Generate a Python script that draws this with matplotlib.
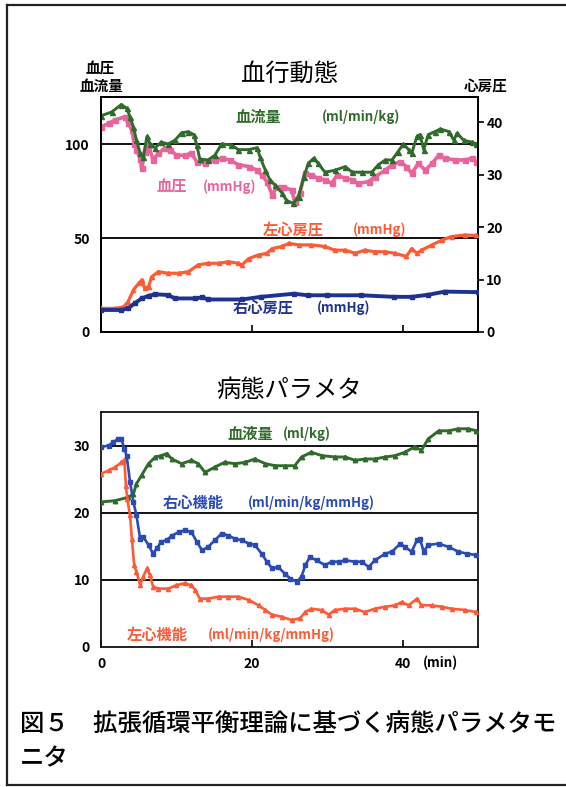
import matplotlib
matplotlib.use("Agg")
import matplotlib.pyplot as plt
from matplotlib.lines import Line2D

plt.rcParams['font.family'] = ['Noto Sans CJK JP', 'DejaVu Sans']

# ---------------- data: 血行動態 (top) ----------------
bf_t = [0, 1.4, 2.7, 3.4, 3.85, 4.3, 4.7, 5.2, 5.6, 6.1, 6.5, 7.2, 8, 8.9, 9.8, 10.7, 11.6, 12.3, 12.7, 13.1,
        14.2, 15.1, 16, 17.3, 18.2, 19.6, 20.7, 21.1, 21.8, 22.4, 23.1, 24, 24.6, 25.5, 26.2, 26.9, 27.5, 28.2, 28.8, 29.7,
        31, 32.4, 33.3, 34.6, 35.9, 36.8, 37.7, 38.6, 39.4, 40.1, 40.8, 41.2, 41.9, 42.3, 42.8, 43.4, 44.3, 45, 46.1, 46.8,
        47.2, 48.1, 49.2, 49.8]
bf_v = [115, 117, 121, 119, 114.5, 109, 102, 95, 93, 104, 100, 98, 101, 100, 102, 106, 106.5, 105, 99.5, 92,
        91.5, 94, 100, 99.5, 97, 97, 98, 93, 86, 81, 78, 74, 70, 68.4, 72, 82.6, 89.7, 92.4, 89.7, 85,
        86, 88, 85, 85, 85, 89, 91.5, 91.5, 96, 100, 97, 95, 104, 105, 97, 105, 106.6, 108, 106.6, 102,
        105.7, 102, 101, 100]

bp_t = [0, 1, 1.9, 3.2, 3.6, 4.1, 4.4, 4.7, 5.2, 5.4, 5.8, 6.3, 6.9, 7.6, 8.5, 9.2, 10, 11.1, 12, 12.7,
        13.8, 15.1, 16, 17.1, 18.2, 19.6, 20.7, 21.3, 22, 22.7, 23.3, 24.2, 25.3, 25.7, 26.4, 27, 27.9, 28.8, 29.7, 30.6,
        31.3, 32.4, 33.3, 34.1, 35.5, 36.3, 37.7, 38.6, 39.7, 40.5, 41.2, 42.1, 43, 43.9, 44.8, 45.6, 47, 48.3, 49.2, 49.8]
bp_v = [109, 111, 112.8, 114.5, 111, 107.4, 100, 97, 92, 87, 96, 99.5, 91.5, 95, 98, 97, 94, 94, 95, 90.6,
        89.7, 91.5, 92.4, 91.5, 89, 88, 86, 83.5, 80, 73, 77, 77, 75.5, 69, 74, 84.4, 83.5, 81.7, 81, 79,
        83.5, 81.7, 81, 79, 80, 82.6, 86, 89, 90.6, 88, 84.4, 89.7, 86, 89.7, 94, 92.4, 91.5, 91.5, 92.4, 90.6]

lap_t = [0, 1.9, 3, 3.6, 4.3, 5, 5.4, 5.8, 6.3, 6.7, 7.6, 8.9, 10.3, 11.6, 12.9, 14.2, 15.6, 16.9, 18.2, 18.7,
         19.6, 20.9, 22, 22.7, 24, 24.9, 26.2, 27.9, 29.7, 31, 32.4, 33.7, 35, 36.3, 37.7, 39, 40.5, 41.2, 41.9, 42.5,
         43.9, 45.2, 46.5, 48.3, 49.8]
lap_v = [4.5, 4.5, 4.8, 5.8, 8.0, 9.3, 9.9, 8.3, 8.6, 10.5, 11.5, 11.2, 11.2, 11.5, 12.8, 13.1, 13.1, 13.4, 13.1, 12.8,
         14.0, 14.7, 15.0, 15.9, 16.3, 16.9, 16.6, 16.6, 16.3, 15.6, 15.6, 15.0, 15.6, 15.3, 15.3, 15.0, 14.4, 15.9, 15.0, 15.6,
         16.6, 17.5, 18.2, 18.5, 18.4]

rap_t = [0, 2.7, 3.6, 4.5, 5.4, 6.3, 7.2, 8.9, 9.8, 12.5, 13.4, 14.2, 18.7, 21.2, 25.6, 27.4, 30, 34.5, 38.9, 41.2,
         43.4, 45.6, 50]
rap_v = [4.2, 4.2, 4.5, 5.5, 6.4, 6.9, 7.2, 7.05, 6.4, 6.4, 6.6, 6.2, 6.2, 6.7, 7.3, 7.0, 7.0, 7.0, 6.7, 6.7,
         7.1, 7.7, 7.6]

# ---------------- data: 病態パラメタ (bottom) ----------------
bv_t = [0, 1.9, 3.6, 4.3, 4.7, 5.4, 6.3, 7.2, 8, 8.7, 9.4, 10.7, 12, 12.9, 13.8, 15.1, 16.4, 17.8, 19.1, 20.4,
        21.8, 23.1, 24.4, 25.7, 26.6, 27.9, 29.3, 31, 32.4, 33.7, 35, 36.3, 37.7, 39, 40.3, 41.6, 42.5, 43.4, 44.8, 46.1,
        47.4, 48.7, 49.8]
bv_v = [21.6, 21.8, 22.3, 22.8, 24.3, 25.6, 27.3, 28.3, 28.5, 28.8, 28, 27.3, 27.8, 27.3, 26, 26.8, 27.5, 27.3, 27.5, 28,
        27.3, 27, 27, 27, 28.3, 29, 28.5, 28.3, 28.3, 27.8, 28, 28, 28.3, 28.5, 29, 29.8, 29.3, 31, 32.2, 32.2,
        32.5, 32.5, 32.2]

rhf_t = [0, 1, 1.6, 2.3, 2.7, 3.1, 3.4, 3.85, 4.3, 4.7, 5.2, 5.6, 6.3, 6.9, 7.4, 8, 8.7, 9.4, 10.3, 11.1,
         12, 12.7, 13.4, 14.2, 15.1, 16, 16.9, 17.8, 18.7, 19.6, 20.4, 21.3, 22, 22.7, 23.5, 24.4, 25.1, 26, 26.6, 27.1,
         27.7, 28.6, 29.7, 30.6, 31.5, 32.4, 33.7, 34.6, 35.5, 36.3, 37.7, 38.6, 39.7, 40.3, 41.2, 41.9, 42.3, 42.8, 43.4, 44.8,
         46.1, 47.4, 48.5, 49.8]
rhf_v = [29.8, 30, 30.5, 31, 31, 29.5, 28.5, 24.6, 21.6, 19.6, 16.1, 16.4, 15.2, 13.9, 14.7, 15.7, 15.9, 16.6, 17.1, 17.4,
         17.1, 15.7, 14.4, 14.9, 15.9, 16.9, 16.6, 16.1, 15.9, 15.4, 15.2, 13.9, 12.7, 11.7, 11.9, 10.9, 10.2, 9.7, 10.5, 12.2,
         13.4, 12.9, 12.2, 12.7, 12.7, 12.9, 12.7, 12.7, 11.9, 12.9, 13.9, 14.2, 15.4, 14.9, 14.2, 15.9, 16.1, 14.2, 15.2, 15.4,
         14.9, 14.2, 13.9, 13.7]

lhf_t = [0, 1, 1.9, 2.7, 3.1, 3.3, 3.5, 3.85, 4.1, 4.4, 4.7, 5.2, 5.6, 6.1, 6.5, 6.9, 7.6, 8.9, 10, 11.1,
         12, 12.5, 13.1, 14.2, 15.6, 16.9, 18.2, 19.6, 20.9, 21.8, 22.7, 24, 25.3, 26.4, 27.1, 27.9, 29.3, 30.2, 31, 32.4,
         33.7, 35, 36.3, 37.7, 39, 39.9, 40.8, 41.9, 42.5, 43.9, 45.2, 46.5, 48.3, 49.8]
lhf_v = [25.8, 26.3, 26.8, 27.5, 27.8, 24, 22, 19.6, 16.1, 12.2, 11.2, 9.2, 10.5, 11.7, 10.7, 9.0, 8.7, 8.7, 9.2, 9.5,
         9.2, 8.5, 7.2, 7.2, 7.5, 7.5, 7.5, 7.0, 6.2, 5.5, 4.8, 4.5, 4.0, 4.3, 5.2, 5.7, 5.5, 4.8, 5.5, 5.7,
         5.7, 5.2, 5.7, 6.0, 6.2, 6.7, 6.2, 7.2, 6.2, 6.2, 6.0, 5.7, 5.5, 5.2]

top_left_ticks = [0, 50, 100]
top_right_ticks = [0, 10, 20, 30, 40]
bot_ticks = [0, 10, 20, 30]
x_ticks = [0, 20, 40]

# ---------------- colours ----------------
C_GREEN = '#2f6b2a'
C_PINK = '#e8649b'
C_RED = '#ff5a36'
C_NAVY = '#1f3290'
C_BLUE = '#2a4bb5'

W, H = 566, 787
fig = plt.figure(figsize=(W / 100, H / 100), dpi=100)
fig.patch.set_facecolor('white')


def fx(x):
    return x / W


def fy(y):
    return 1 - y / H


# outer frame
for xs, ys in [([7, 7], [5, 785]), ([7, 566], [5, 5]), ([7, 566], [785, 785])]:
    fig.add_artist(Line2D([fx(v) for v in xs], [fy(v) for v in ys], color='#222222', lw=1.6))

bold = dict(fontweight='bold', fontsize=10)


def setup(ax, ymax):
    ax.set_xlim(0, 50)
    ax.set_ylim(0, ymax)
    for s in ax.spines.values():
        s.set_linewidth(1.3)
        s.set_color('#111111')
    ax.tick_params(axis='x', direction='in', length=5, width=1.2)
    ax.tick_params(axis='y', length=0, pad=8)


# ---------------- top axes ----------------
ax1 = fig.add_axes([fx(101), fy(332), 377 / W, 235 / H])
setup(ax1, 125)
ax1.set_yticks(top_left_ticks)
ax1.set_yticklabels([str(v) for v in top_left_ticks], **bold)
ax1.set_xticks([20, 40])
ax1.tick_params(axis='x', labelbottom=False)
for g in [100, 50]:
    ax1.axhline(g, color='#111111', lw=1.4, zorder=1)
ax1.plot(bp_t, bp_v, color=C_PINK, lw=2.6, marker='s', ms=3.6, zorder=3)
ax1.plot(bf_t, bf_v, color=C_GREEN, lw=2.1, marker='^', ms=3.6, zorder=4)

ax1r = ax1.twinx()
ax1r.set_ylim(0, 44.8)
ax1r.set_yticks(top_right_ticks)
ax1r.set_yticklabels([str(v) for v in top_right_ticks], **bold)
ax1r.tick_params(axis='y', direction='out', length=4, width=1.2, pad=2)
for s in ax1r.spines.values():
    s.set_linewidth(1.3)
ax1r.plot(lap_t, lap_v, color=C_RED, lw=2.3, marker='^', ms=3.0, zorder=3)
ax1r.plot(rap_t, rap_v, color=C_NAVY, lw=2.8, marker='s', ms=2.8, zorder=3)

# ---------------- bottom axes ----------------
ax2 = fig.add_axes([fx(101), fy(647), 377 / W, 235 / H])
setup(ax2, 35)
ax2.set_yticks(bot_ticks)
ax2.set_yticklabels([str(v) for v in bot_ticks], **bold)
ax2.set_xticks(x_ticks)
ax2.set_xticklabels([str(v) for v in x_ticks], **bold)
ax2.tick_params(axis='x', pad=7)
for g in [30, 20, 10]:
    ax2.axhline(g, color='#111111', lw=1.4, zorder=1)
ax2.plot(bv_t, bv_v, color=C_GREEN, lw=2.1, marker='^', ms=3.2, zorder=3)
ax2.plot(lhf_t, lhf_v, color=C_RED, lw=1.9, marker='^', ms=3.0, zorder=3)
ax2.plot(rhf_t, rhf_v, color=C_BLUE, lw=1.9, marker='s', ms=2.8, zorder=4)

# ---------------- texts ----------------
def t(x, y, s, **kw):
    fig.text(fx(x), fy(y), s, **kw)


t(289, 74, '血行動態', ha='center', va='center', fontsize=17.5)
t(289, 390, '病態パラメタ', ha='center', va='center', fontsize=17.5)
t(100, 69, '血圧', ha='center', va='center', fontsize=10.5, fontweight='bold')
t(101, 86, '血流量', ha='center', va='center', fontsize=10.5, fontweight='bold')
t(486, 86, '心房圧', ha='center', va='center', fontsize=10.5, fontweight='bold')

lab = dict(va='center', fontweight='bold')
t(235, 117, '血流量', ha='left', color=C_GREEN, fontsize=11, **lab)
t(322, 117, '(ml/min/kg)', ha='left', color=C_GREEN, fontsize=9.5, **lab)
t(157, 187, '血圧', ha='left', color=C_PINK, fontsize=11, **lab)
t(203, 187, '(mmHg)', ha='left', color=C_PINK, fontsize=9.5, **lab)
t(263, 230, '左心房圧', ha='left', color=C_RED, fontsize=11, **lab)
t(353, 230, '(mmHg)', ha='left', color=C_RED, fontsize=9.5, **lab)
t(233, 308, '右心房圧', ha='left', color=C_NAVY, fontsize=11, **lab)
t(317, 308, '(mmHg)', ha='left', color=C_NAVY, fontsize=9.5, **lab)

t(228, 434, '血液量', ha='left', color=C_GREEN, fontsize=11, **lab)
t(283, 434, '(ml/kg)', ha='left', color=C_GREEN, fontsize=9.5, **lab)
t(163, 503, '右心機能', ha='left', color=C_BLUE, fontsize=11, **lab)
t(248, 503, '(ml/min/kg/mmHg)', ha='left', color=C_BLUE, fontsize=9.5, **lab)
t(127, 635, '左心機能', ha='left', color=C_RED, fontsize=11, **lab)
t(208, 635, '(ml/min/kg/mmHg)', ha='left', color=C_RED, fontsize=9.5, **lab)

t(441, 663, '(min)', ha='center', va='center', fontsize=9.5, fontweight='bold')

t(20, 724, '図５　拡張循環平衡理論に基づく病態パラメタモ', ha='left', va='center', fontsize=17.6,
  fontweight='medium')
t(20, 758, 'ニタ', ha='left', va='center', fontsize=17.6, fontweight='medium')

fig.savefig('out.png', dpi=100, facecolor='white')
